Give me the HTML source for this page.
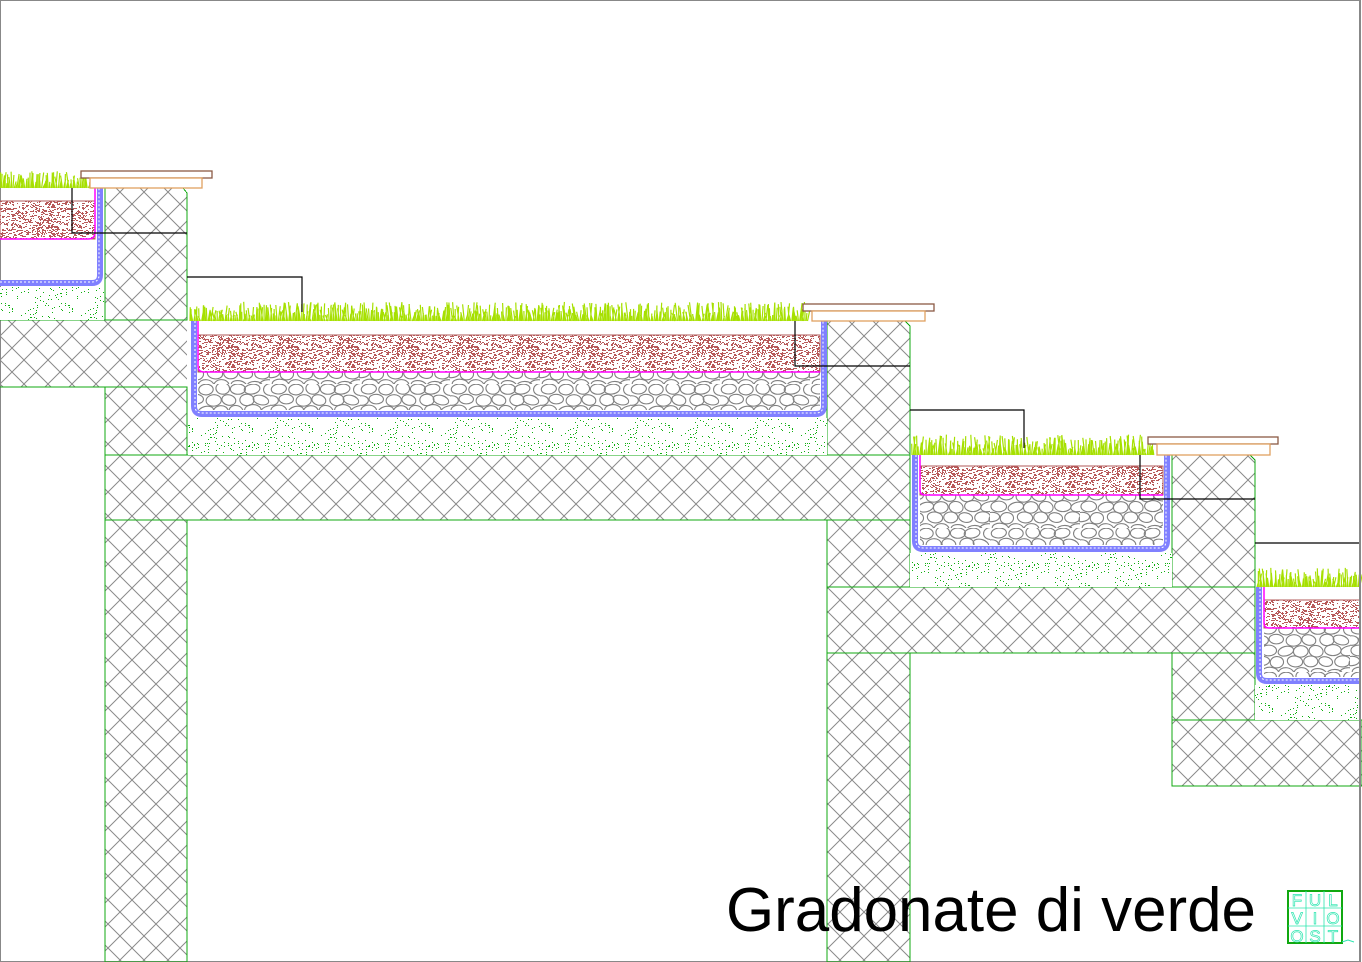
<!DOCTYPE html>
<html><head><meta charset="utf-8"><style>
html,body{margin:0;padding:0;background:#fff;}
svg{display:block;}
</style></head><body>
<svg id="s" width="1362" height="962" viewBox="0 0 1362 962" xmlns="http://www.w3.org/2000/svg">
<defs>
<pattern id="hatch" patternUnits="userSpaceOnUse" width="24" height="24">
<path d="M0 0L24 24M24 0L0 24" stroke="#8a8a8a" stroke-width="1" fill="none"/>
</pattern>
<pattern id="soil" patternUnits="userSpaceOnUse" width="60" height="40"><g id="soilg"></g></pattern>
<pattern id="gdots" patternUnits="userSpaceOnUse" width="60" height="40"><g id="gdotsg"></g></pattern>
<pattern id="stones" patternUnits="userSpaceOnUse" width="90" height="48"><g id="stoneg"></g></pattern>
</defs>
<rect x="0.5" y="0.5" width="1360" height="961" fill="#fff" stroke="#888"/>

<g fill="url(#hatch)" stroke="#10a810" stroke-width="1" shape-rendering="crispEdges">
<path d="M105 188 H183 L187 193 V320 H105 Z"/>
<rect x="0" y="320" width="187" height="67" stroke="none"/>
<path d="M0 320 H187 M0 387 H187" />
<rect x="105" y="387" width="82" height="68"/>
<rect x="105" y="455" width="805" height="65"/>
<rect x="105" y="520" width="82" height="442"/>
<path d="M827 321 H905 L910 326 V455 H827 Z"/>
<rect x="827" y="520" width="83" height="67"/>
<rect x="827" y="587" width="428" height="66"/>
<rect x="827" y="653" width="83" height="309"/>
<path d="M1172 455 H1250 L1255 460 V587 H1172 Z"/>
<rect x="1172" y="653" width="83" height="67"/>
<rect x="1172" y="720" width="190" height="66"/>
</g>

<g fill="url(#gdots)">
<rect x="0" y="287" width="104" height="33"/>
<rect x="188" y="418" width="639" height="37"/>
<rect x="910" y="553" width="262" height="34"/>
<rect x="1255" y="685" width="105" height="35"/>
</g>
<g fill="url(#stones)">
<rect x="198" y="372" width="622" height="38"/>
<rect x="920" y="495" width="243" height="50"/>
<rect x="1264" y="628" width="96" height="49"/>
</g>
<g fill="url(#soil)" stroke="#b05a5a" stroke-width="1">
<rect x="0" y="201" width="95" height="38"/>
<rect x="198" y="335" width="622" height="37"/>
<rect x="920" y="466" width="243" height="29"/>
<rect x="1264" y="600" width="96" height="28"/>
</g>
<g fill="none" stroke="#ff00ff" stroke-width="1.5">
<path d="M0 239 H88 Q95 239 95 232 V188"/>
<path d="M198 321 V366 Q198 372 204 372 H820"/>
<path d="M920 455 V490 Q920 495 925 495 H1163"/>
<path d="M1264 587 V623 Q1264 628 1269 628 H1360"/>
</g>
<g fill="none" stroke="#8080ff" stroke-width="6">
<path d="M0 283 H92 Q100 283 100 275 V188"/>
<path d="M194 321 V406 Q194 414 202 414 H816 Q824 414 824 406 V321"/>
<path d="M915 455 V541 Q915 549 923 549 H1159 Q1167 549 1167 541 V455"/>
<path d="M1259 587 V673 Q1259 681 1267 681 H1360"/>
</g>
<g fill="none" stroke="#fff" stroke-width="1" stroke-dasharray="2 2">
<path d="M0 282 H92 Q99 282 99 275 V188"/>
<path d="M195 321 V406 Q195 413 202 413 H816 Q823 413 823 406 V321"/>
<path d="M916 455 V541 Q916 548 923 548 H1159 Q1166 548 1166 541 V455"/>
<path d="M1260 587 V673 Q1260 680 1267 680 H1360"/>
</g>
<g id="grass" stroke="#a6e000" stroke-width="1.2"></g>
<g fill="#fff" stroke-width="1.3">
<rect x="81" y="171" width="131" height="7" stroke="#8b5a44"/>
<rect x="90" y="178" width="112" height="10" stroke="#e0a060"/>
<rect x="803" y="304" width="131" height="7" stroke="#8b5a44"/>
<rect x="812" y="311" width="113" height="10" stroke="#e0a060"/>
<rect x="1148" y="437" width="130" height="7" stroke="#8b5a44"/>
<rect x="1157" y="444" width="113" height="11" stroke="#e0a060"/>
</g>
<g fill="none" stroke="#000" stroke-width="1.2">
<path d="M72 188 V233 H187"/>
<path d="M187 277 H302 V312"/>
<path d="M795 321 V366 H910"/>
<path d="M910 410 H1024 V448"/>
<path d="M1140 455 V499 H1255"/>
<path d="M1255 543 H1360"/>
</g>
<line x1="1360" y1="0" x2="1360" y2="962" stroke="#888" stroke-width="2"/>

<text x="726" y="931" font-family="Liberation Sans, sans-serif" font-size="62" textLength="530" lengthAdjust="spacingAndGlyphs" fill="#000">Gradonate di verde</text>

<g>
<rect x="1288" y="891" width="54" height="52" fill="none" stroke="#10a810" stroke-width="2"/>
<path d="M1306 891V943M1324 891V943M1288 908H1342M1288 926H1342" stroke="#2de6b0" stroke-width="0.8"/>
<g font-family="Liberation Sans, sans-serif" font-size="17" fill="none" stroke="#2de6b0" stroke-width="0.7" text-anchor="middle">
<text x="1297" y="906">F</text><text x="1315" y="906">U</text><text x="1333" y="906">L</text>
<text x="1297" y="924">V</text><text x="1315" y="924">I</text><text x="1333" y="924">O</text>
<text x="1297" y="942">O</text><text x="1315" y="942">S</text><text x="1333" y="942">T</text>
</g>
<path d="M1342 942 L1348 940 L1354 942" stroke="#2de6b0" fill="none"/>
</g>
</svg>
<script>
(function(){
var NS="http://www.w3.org/2000/svg";
var seed=7;function r(){seed=(seed*16807)%2147483647;return seed/2147483647;}
function el(t,a,p){var e=document.createElementNS(NS,t);for(var k in a)e.setAttribute(k,a[k]);p.appendChild(e);return e;}
var sg=document.getElementById('soilg');
el('rect',{x:0,y:0,width:60,height:40,fill:'#fff'},sg);
for(var i=0;i<650;i++)el('rect',{x:Math.floor(r()*60),y:Math.floor(r()*40),width:1+Math.floor(r()*2),height:1,fill:'#b85a5a'},sg);
var gg=document.getElementById('gdotsg');
el('rect',{x:0,y:0,width:60,height:40,fill:'#fff'},gg);
for(var i=0;i<110;i++)el('rect',{x:Math.floor(r()*60),y:Math.floor(r()*40),width:1,height:1,fill:'#10b010'},gg);
var st=document.getElementById('stoneg');
el('rect',{x:0,y:0,width:90,height:48,fill:'#fff'},st);
var row=0;
for(var yy=5;yy<54;yy+=11){for(var xx=(row%2?0:8);xx<100;xx+=16){
var cx=xx+r()*3,cy=yy+r()*2-1;
el('ellipse',{cx:cx,cy:cy,rx:6.5+r()*2,ry:4.5+r()*1.5,transform:'rotate('+((r()-0.5)*30).toFixed(0)+' '+cx+' '+cy+')',fill:'none',stroke:'#808080','stroke-width':1.1},st);}row++;}
var g=document.getElementById('grass');
function grass(x0,x1,yb,h){var d='';for(var x=x0;x<x1;x+=1.3){var hh=h*(0.3+r()*0.9);var dx=(r()-0.5)*5;d+='M'+x.toFixed(1)+' '+yb+'l'+dx.toFixed(1)+' '+(-hh).toFixed(1);}
el('path',{d:d},g);}
grass(0,90,188,14);grass(190,808,321,16);grass(912,1155,455,17);grass(1257,1360,587,16);
})();
</script>
</body></html>
